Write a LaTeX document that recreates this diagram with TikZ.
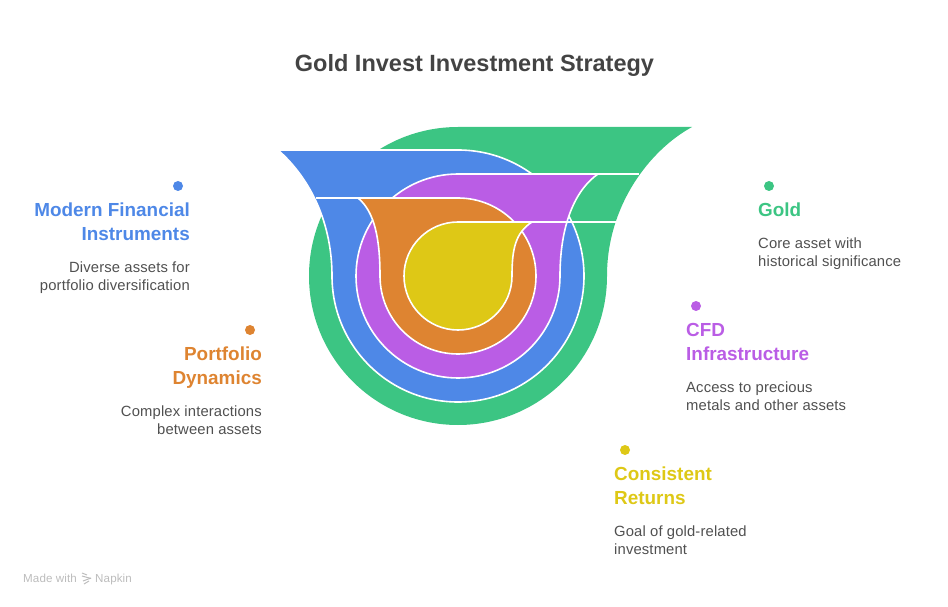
\documentclass[tikz,border=0pt]{standalone}
\usepackage{fontspec}
\setmainfont{Liberation Sans}
\newfontface\bodyface[LetterSpace=1.0]{Liberation Sans}
\definecolor{cgreen}{HTML}{3CC583}
\definecolor{cblue}{HTML}{4E88E7}
\definecolor{cpurple}{HTML}{BA5DE5}
\definecolor{corange}{HTML}{DE8431}
\definecolor{cyellow}{HTML}{DEC816}
\definecolor{ctext}{HTML}{434343}
\definecolor{cbody}{HTML}{505050}
\definecolor{cmark}{HTML}{BCBCBC}
\tikzset{
  band/.style={draw=white,line width=1.6pt,line join=round},
  seam/.style={draw=white,line width=1.6pt},
  dotmark/.style={circle,inner sep=0pt,minimum size=10pt},
  headL/.style={font=\fontsize{18.9}{24}\selectfont\bfseries,align=right,anchor=north east,inner sep=0pt},
  headR/.style={font=\fontsize{18.9}{24}\selectfont\bfseries,align=left,anchor=north west,inner sep=0pt},
  bodyL/.style={font=\bodyface\fontsize{14.8}{18}\selectfont,text=cbody,align=right,anchor=north east,inner sep=0pt},
  bodyR/.style={font=\bodyface\fontsize{14.8}{18}\selectfont,text=cbody,align=left,anchor=north west,inner sep=0pt},
  credit/.style={font=\bodyface\fontsize{11.6}{13}\selectfont,text=cmark,anchor=base west,inner sep=0pt},
}
\begin{document}
\begin{tikzpicture}[x=1pt,y=1pt]
\useasboundingbox (0,0) rectangle (948,606);

% nested funnel bands, outermost first
\fill[cgreen] (692,479) -- (458,479) arc[start angle=90,delta angle=270,radius=149]
  .. controls (607,401) and (650,456) .. (692,479) -- cycle;
\filldraw[band,fill=cblue] (278,456) -- (458,456) arc[start angle=90,delta angle=-270,radius=126]
  .. controls (332,381) and (312,426) .. (278,456) -- cycle;
\filldraw[band,fill=cpurple] (598,432) -- (458,432) arc[start angle=90,delta angle=270,radius=102]
  .. controls (560,381) and (575,416) .. (598,432) -- cycle;
\filldraw[band,fill=corange] (358,408) -- (458,408) arc[start angle=90,delta angle=-270,radius=78]
  .. controls (380,366) and (375,394) .. (358,408) -- cycle;
\filldraw[band,fill=cyellow] (532,384) -- (458,384) arc[start angle=90,delta angle=270,radius=54]
  .. controls (512,356) and (515,373) .. (532,384) -- cycle;

% seams running from each band tip out to the green edge
\coordinate (tipP) at (598,432);
\coordinate (tipO) at (358,408);
\coordinate (tipY) at (532,384);
\coordinate (edgeP) at (639,432);
\coordinate (edgeO) at (316,408);
\coordinate (edgeY) at (616,384);
\draw[seam] (tipP) -- (edgeP);
\draw[seam] (tipO) -- (edgeO);
\draw[seam] (tipY) -- (edgeY);

% title
\node[font=\fontsize{23.5}{28}\selectfont\bfseries,text=ctext,anchor=base,inner sep=0pt] (title) at (474.5,534) {Gold Invest Investment Strategy};

% markers
\node[dotmark,fill=cblue] (dotBlue) at (178,420) {};
\node[dotmark,fill=corange] (dotOrange) at (250,276) {};
\node[dotmark,fill=cgreen] (dotGreen) at (769,420) {};
\node[dotmark,fill=cpurple] (dotPurple) at (696,300) {};
\node[dotmark,fill=cyellow] (dotYellow) at (625,156) {};

% left labels
\node[headL,text=cblue] (hBlue) at (190,403) {Modern Financial\\Instruments};
\node[bodyL] (bBlue) at (190,344) {Diverse assets for\\portfolio diversification};
\node[headL,text=corange] (hOrange) at (262,259) {Portfolio\\Dynamics};
\node[bodyL] (bOrange) at (262,200) {Complex interactions\\between assets};

% right labels
\node[headR,text=cgreen] (hGreen) at (758,403) {Gold};
\node[bodyR] (bGreen) at (758,368) {Core asset with\\historical significance};
\node[headR,text=cpurple] (hPurple) at (686,283) {CFD\\Infrastructure};
\node[bodyR] (bPurple) at (686,224) {Access to precious\\metals and other assets};
\node[headR,text=cyellow] (hYellow) at (614,139) {Consistent\\Returns};
\node[bodyR] (bYellow) at (614,80) {Goal of gold-related\\investment};

% attribution with its small stripe mark
\node[credit] (made) at (23,24) {Made with};
\node[credit] (napkin) at (95,24) {Napkin};
\begin{scope}[cmark,line width=1pt]
  \draw (82,33) -- (87,31);
  \draw (82,30) -- (91,27.5);
  \draw (83,25) -- (91,28);
  \draw (84,22) -- (89,25);
\end{scope}
\end{tikzpicture}
\end{document}
